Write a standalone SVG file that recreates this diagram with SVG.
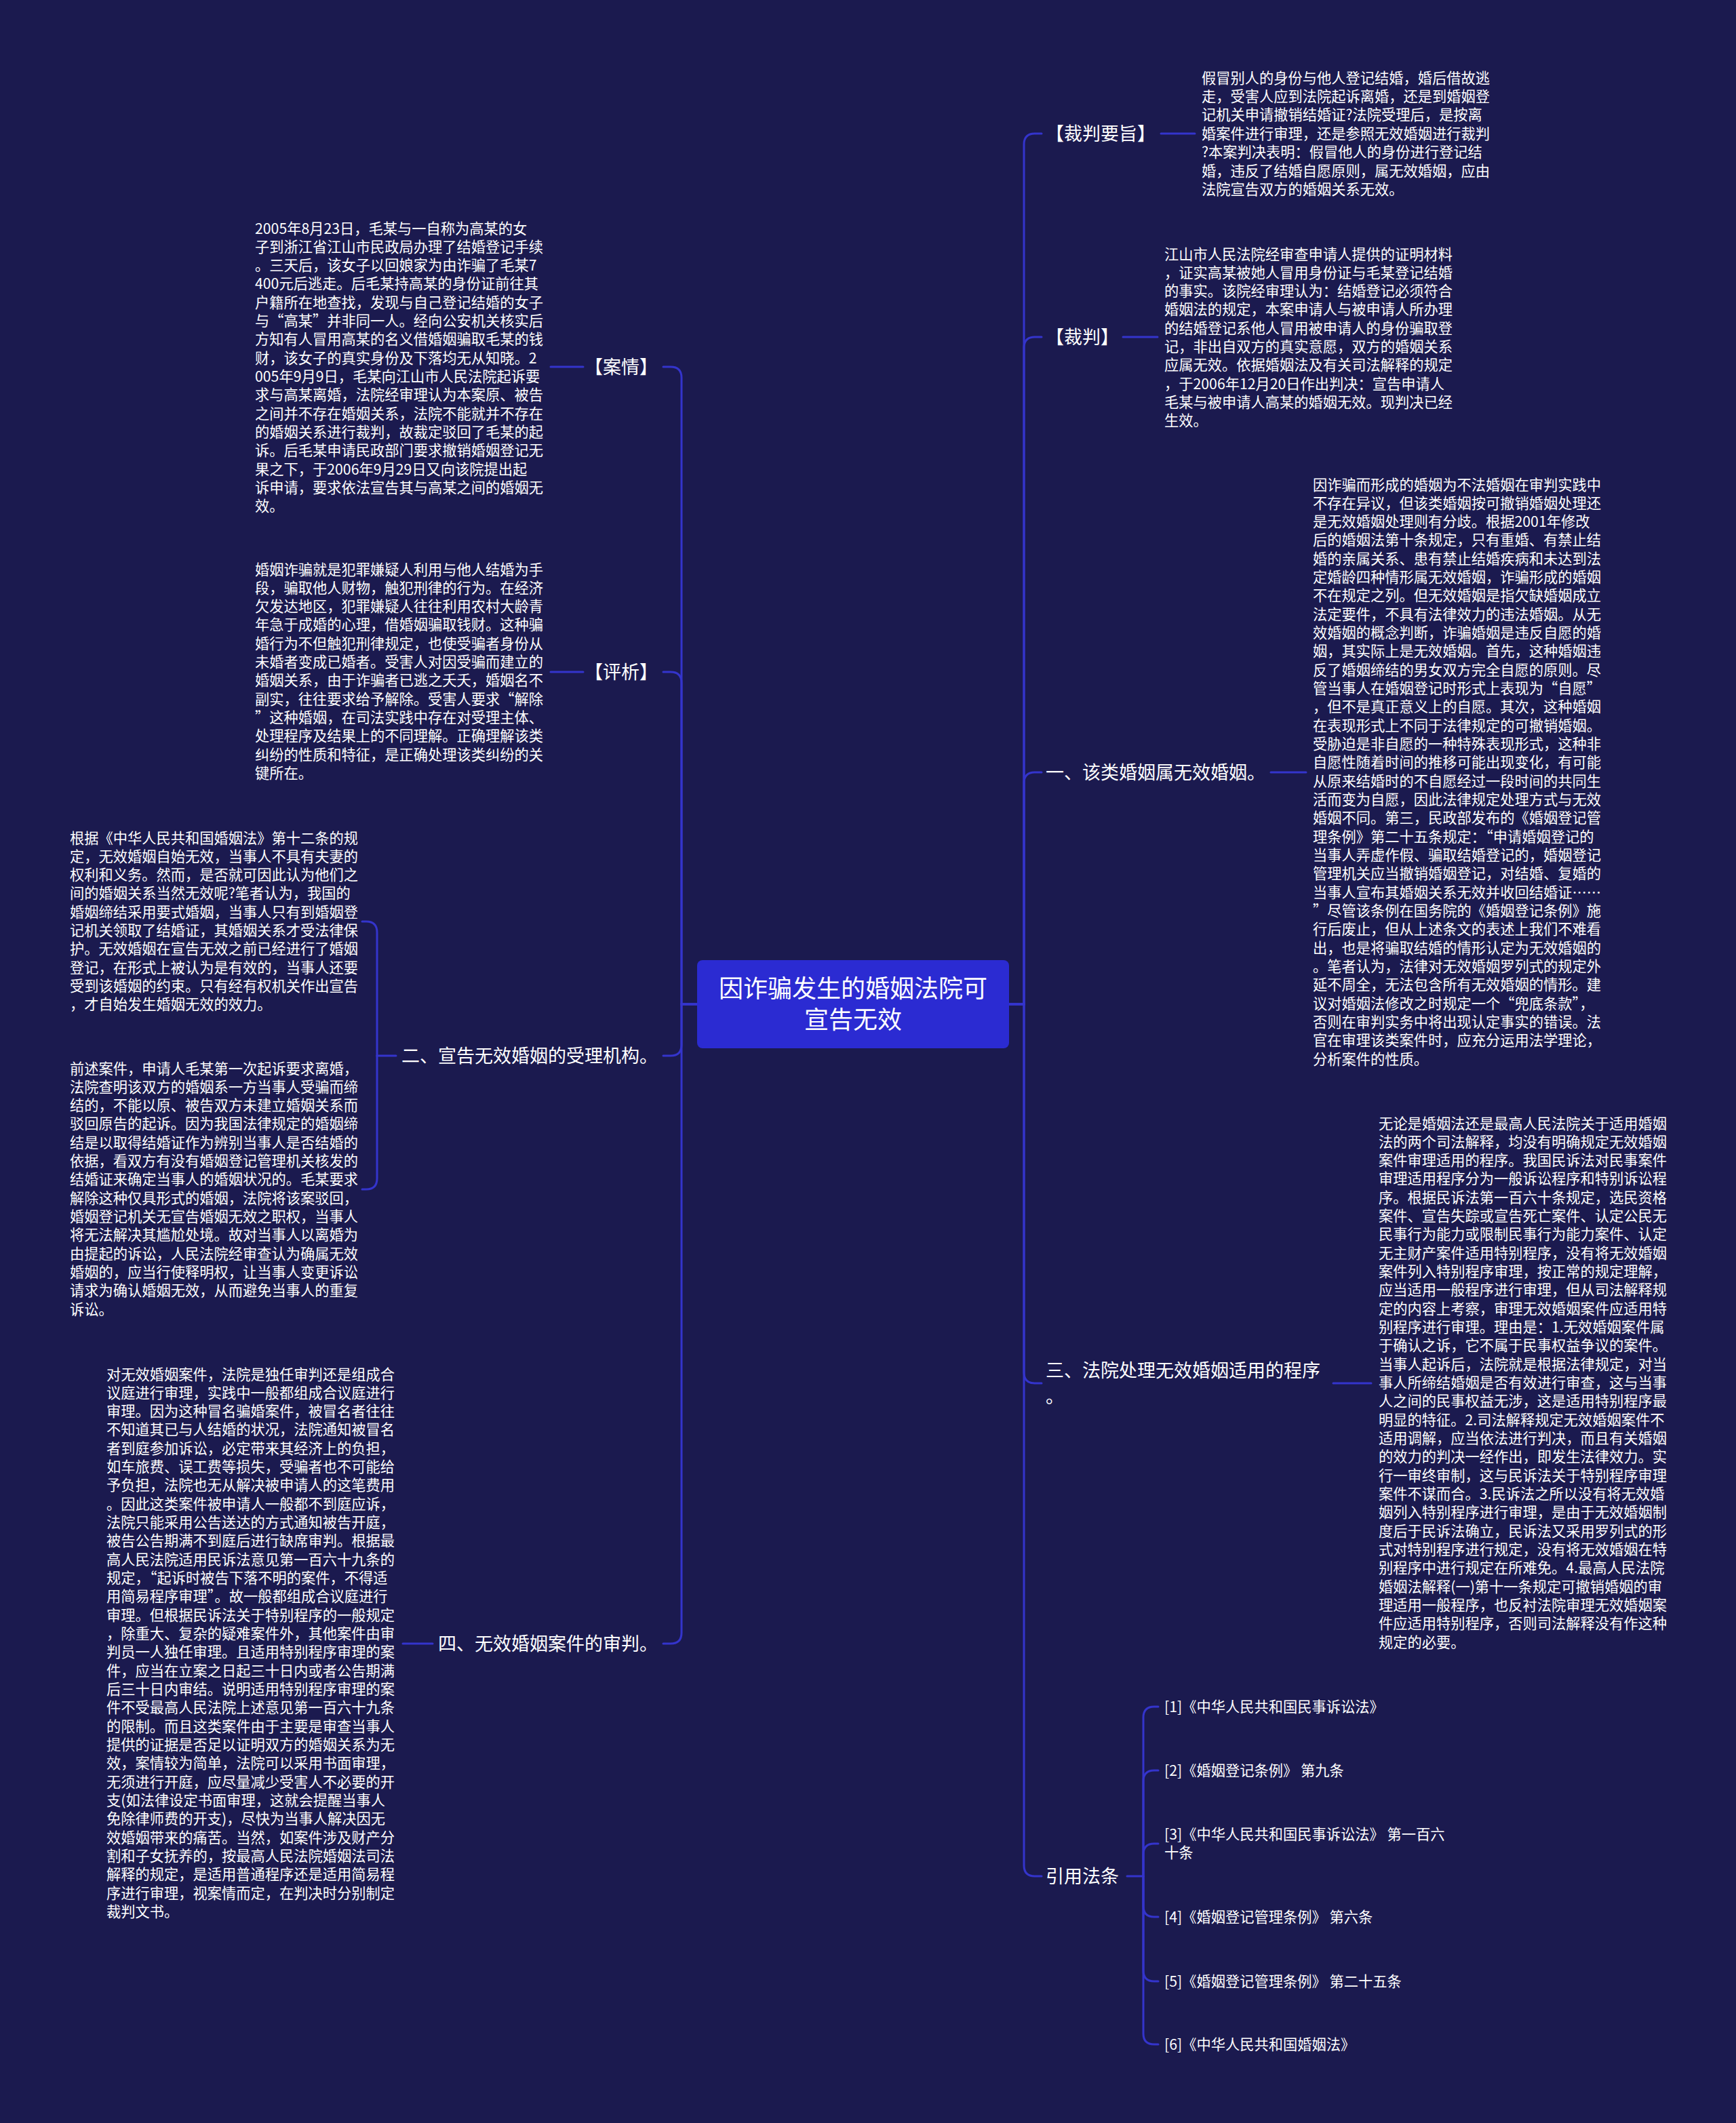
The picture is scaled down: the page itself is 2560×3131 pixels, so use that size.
<svg xmlns="http://www.w3.org/2000/svg" width="2560" height="3131" viewBox="0 0 2560 3131">
<style>
text{font-family:"Noto Sans CJK SC","Noto Sans",sans-serif;fill:#ffffff}
.leaf{font-size:21.25px}
.lbl{font-size:27px}
.root{font-size:36px}
.conn{stroke:#3434cc;stroke-width:3;fill:none;stroke-linecap:round}
</style>
<rect x="0" y="0" width="2560" height="3131" fill="#1b1a4f"/>
<g id="connectors">
<path class="conn" d="M1488 1481 H1510 V213 Q1510 197 1526 197 H1536"/>
<path class="conn" d="M1488 1481 H1510 V513 Q1510 497 1526 497 H1536"/>
<path class="conn" d="M1488 1481 H1510 V1155 Q1510 1139 1526 1139 H1536"/>
<path class="conn" d="M1488 1481 H1510 V2024 Q1510 2040 1526 2040 H1536"/>
<path class="conn" d="M1488 1481 H1510 V2751 Q1510 2767 1526 2767 H1536"/>
<path class="conn" d="M1028 1481 H1005 V557 Q1005 541 989 541 H978"/>
<path class="conn" d="M1028 1481 H1005 V1007 Q1005 991 989 991 H978"/>
<path class="conn" d="M1028 1481 H1005 V1541 Q1005 1557 989 1557 H978"/>
<path class="conn" d="M1028 1481 H1005 V2408 Q1005 2424 989 2424 H978"/>
<path class="conn" d="M1712 197 H1762"/>
<path class="conn" d="M1656 497 H1707"/>
<path class="conn" d="M1874 1139 H1926"/>
<path class="conn" d="M1966 2040 H2022"/>
<path class="conn" d="M1662 2767 H1686"/>
<path class="conn" d="M1686 2767 V2533 Q1686 2517 1702 2517 H1708"/>
<path class="conn" d="M1686 2767 V2627 Q1686 2611 1702 2611 H1708"/>
<path class="conn" d="M1686 2767 V2735 Q1686 2719 1702 2719 H1708"/>
<path class="conn" d="M1686 2767 V2811 Q1686 2827 1702 2827 H1708"/>
<path class="conn" d="M1686 2767 V2906 Q1686 2922 1702 2922 H1708"/>
<path class="conn" d="M1686 2767 V2999 Q1686 3015 1702 3015 H1708"/>
<path class="conn" d="M812 541 H860"/>
<path class="conn" d="M812 991 H860"/>
<path class="conn" d="M584 1557 H556"/>
<path class="conn" d="M556 1557 V1375 Q556 1359 540 1359 H534"/>
<path class="conn" d="M556 1557 V1738 Q556 1754 540 1754 H534"/>
<path class="conn" d="M594 2424 H638"/>
</g>
<g id="root">
<rect x="1028" y="1416" width="460" height="130" rx="8" fill="#2b2bd2"/>
<text class="root" x="1258" y="1470.5" text-anchor="middle">因诈骗发生的婚姻法院可</text>
<text class="root" x="1258" y="1516.5" text-anchor="middle">宣告无效</text>
</g>
<g id="n-caipanyaozhi">
<text class="lbl" x="1542" y="206.5">【裁判要旨】</text>
</g>
<g id="n-caipanyaozhi-leaf">
<text class="leaf" x="1772" y="122.5"><tspan x="1772">假冒别人的身份与他人登记结婚，婚后借故逃</tspan><tspan x="1772" dy="27.4">走，受害人应到法院起诉离婚，还是到婚姻登</tspan><tspan x="1772" dy="27.4">记机关申请撤销结婚证?法院受理后，是按离</tspan><tspan x="1772" dy="27.4">婚案件进行审理，还是参照无效婚姻进行裁判</tspan><tspan x="1772" dy="27.4">?本案判决表明：假冒他人的身份进行登记结</tspan><tspan x="1772" dy="27.4">婚，违反了结婚自愿原则，属无效婚姻，应由</tspan><tspan x="1772" dy="27.4">法院宣告双方的婚姻关系无效。</tspan></text>
</g>
<g id="n-caipan">
<text class="lbl" x="1542" y="506.5">【裁判】</text>
</g>
<g id="n-caipan-leaf">
<text class="leaf" x="1717" y="382.5"><tspan x="1717">江山市人民法院经审查申请人提供的证明材料</tspan><tspan x="1717" dy="27.33">，证实高某被她人冒用身份证与毛某登记结婚</tspan><tspan x="1717" dy="27.33">的事实。该院经审理认为：结婚登记必须符合</tspan><tspan x="1717" dy="27.33">婚姻法的规定，本案申请人与被申请人所办理</tspan><tspan x="1717" dy="27.33">的结婚登记系他人冒用被申请人的身份骗取登</tspan><tspan x="1717" dy="27.33">记，非出自双方的真实意愿，双方的婚姻关系</tspan><tspan x="1717" dy="27.33">应属无效。依据婚姻法及有关司法解释的规定</tspan><tspan x="1717" dy="27.33">，于2006年12月20日作出判决：宣告申请人</tspan><tspan x="1717" dy="27.33">毛某与被申请人高某的婚姻无效。现判决已经</tspan><tspan x="1717" dy="27.33">生效。</tspan></text>
</g>
<g id="n-yi">
<text class="lbl" x="1542" y="1148.5">一、该类婚姻属无效婚姻。</text>
</g>
<g id="n-yi-leaf">
<text class="leaf" x="1936" y="722.5"><tspan x="1936">因诈骗而形成的婚姻为不法婚姻在审判实践中</tspan><tspan x="1936" dy="27.33">不存在异议，但该类婚姻按可撤销婚姻处理还</tspan><tspan x="1936" dy="27.33">是无效婚姻处理则有分歧。根据2001年修改</tspan><tspan x="1936" dy="27.33">后的婚姻法第十条规定，只有重婚、有禁止结</tspan><tspan x="1936" dy="27.33">婚的亲属关系、患有禁止结婚疾病和未达到法</tspan><tspan x="1936" dy="27.33">定婚龄四种情形属无效婚姻，诈骗形成的婚姻</tspan><tspan x="1936" dy="27.33">不在规定之列。但无效婚姻是指欠缺婚姻成立</tspan><tspan x="1936" dy="27.33">法定要件，不具有法律效力的违法婚姻。从无</tspan><tspan x="1936" dy="27.33">效婚姻的概念判断，诈骗婚姻是违反自愿的婚</tspan><tspan x="1936" dy="27.33">姻，其实际上是无效婚姻。首先，这种婚姻违</tspan><tspan x="1936" dy="27.33">反了婚姻缔结的男女双方完全自愿的原则。尽</tspan><tspan x="1936" dy="27.33">管当事人在婚姻登记时形式上表现为“自愿”</tspan><tspan x="1936" dy="27.33">，但不是真正意义上的自愿。其次，这种婚姻</tspan><tspan x="1936" dy="27.33">在表现形式上不同于法律规定的可撤销婚姻。</tspan><tspan x="1936" dy="27.33">受胁迫是非自愿的一种特殊表现形式，这种非</tspan><tspan x="1936" dy="27.33">自愿性随着时间的推移可能出现变化，有可能</tspan><tspan x="1936" dy="27.33">从原来结婚时的不自愿经过一段时间的共同生</tspan><tspan x="1936" dy="27.33">活而变为自愿，因此法律规定处理方式与无效</tspan><tspan x="1936" dy="27.33">婚姻不同。第三，民政部发布的《婚姻登记管</tspan><tspan x="1936" dy="27.33">理条例》第二十五条规定：“申请婚姻登记的</tspan><tspan x="1936" dy="27.33">当事人弄虚作假、骗取结婚登记的，婚姻登记</tspan><tspan x="1936" dy="27.33">管理机关应当撤销婚姻登记，对结婚、复婚的</tspan><tspan x="1936" dy="27.33">当事人宣布其婚姻关系无效并收回结婚证……</tspan><tspan x="1936" dy="27.33">”尽管该条例在国务院的《婚姻登记条例》施</tspan><tspan x="1936" dy="27.33">行后废止，但从上述条文的表述上我们不难看</tspan><tspan x="1936" dy="27.33">出，也是将骗取结婚的情形认定为无效婚姻的</tspan><tspan x="1936" dy="27.33">。笔者认为，法律对无效婚姻罗列式的规定外</tspan><tspan x="1936" dy="27.33">延不周全，无法包含所有无效婚姻的情形。建</tspan><tspan x="1936" dy="27.33">议对婚姻法修改之时规定一个“兜底条款”，</tspan><tspan x="1936" dy="27.33">否则在审判实务中将出现认定事实的错误。法</tspan><tspan x="1936" dy="27.33">官在审理该类案件时，应充分运用法学理论，</tspan><tspan x="1936" dy="27.33">分析案件的性质。</tspan></text>
</g>
<g id="n-san">
<text class="lbl" x="1542" y="2030.5"><tspan x="1542">三、法院处理无效婚姻适用的程序</tspan><tspan x="1542" dy="38">。</tspan></text>
</g>
<g id="n-san-leaf">
<text class="leaf" x="2033" y="1664.5"><tspan x="2033">无论是婚姻法还是最高人民法院关于适用婚姻</tspan><tspan x="2033" dy="27.33">法的两个司法解释，均没有明确规定无效婚姻</tspan><tspan x="2033" dy="27.33">案件审理适用的程序。我国民诉法对民事案件</tspan><tspan x="2033" dy="27.33">审理适用程序分为一般诉讼程序和特别诉讼程</tspan><tspan x="2033" dy="27.33">序。根据民诉法第一百六十条规定，选民资格</tspan><tspan x="2033" dy="27.33">案件、宣告失踪或宣告死亡案件、认定公民无</tspan><tspan x="2033" dy="27.33">民事行为能力或限制民事行为能力案件、认定</tspan><tspan x="2033" dy="27.33">无主财产案件适用特别程序，没有将无效婚姻</tspan><tspan x="2033" dy="27.33">案件列入特别程序审理，按正常的规定理解，</tspan><tspan x="2033" dy="27.33">应当适用一般程序进行审理，但从司法解释规</tspan><tspan x="2033" dy="27.33">定的内容上考察，审理无效婚姻案件应适用特</tspan><tspan x="2033" dy="27.33">别程序进行审理。理由是：1.无效婚姻案件属</tspan><tspan x="2033" dy="27.33">于确认之诉，它不属于民事权益争议的案件。</tspan><tspan x="2033" dy="27.33">当事人起诉后，法院就是根据法律规定，对当</tspan><tspan x="2033" dy="27.33">事人所缔结婚姻是否有效进行审查，这与当事</tspan><tspan x="2033" dy="27.33">人之间的民事权益无涉，这是适用特别程序最</tspan><tspan x="2033" dy="27.33">明显的特征。2.司法解释规定无效婚姻案件不</tspan><tspan x="2033" dy="27.33">适用调解，应当依法进行判决，而且有关婚姻</tspan><tspan x="2033" dy="27.33">的效力的判决一经作出，即发生法律效力。实</tspan><tspan x="2033" dy="27.33">行一审终审制，这与民诉法关于特别程序审理</tspan><tspan x="2033" dy="27.33">案件不谋而合。3.民诉法之所以没有将无效婚</tspan><tspan x="2033" dy="27.33">姻列入特别程序进行审理，是由于无效婚姻制</tspan><tspan x="2033" dy="27.33">度后于民诉法确立，民诉法又采用罗列式的形</tspan><tspan x="2033" dy="27.33">式对特别程序进行规定，没有将无效婚姻在特</tspan><tspan x="2033" dy="27.33">别程序中进行规定在所难免。4.最高人民法院</tspan><tspan x="2033" dy="27.33">婚姻法解释(一)第十一条规定可撤销婚姻的审</tspan><tspan x="2033" dy="27.33">理适用一般程序，也反衬法院审理无效婚姻案</tspan><tspan x="2033" dy="27.33">件应适用特别程序，否则司法解释没有作这种</tspan><tspan x="2033" dy="27.33">规定的必要。</tspan></text>
</g>
<g id="n-yinyong">
<text class="lbl" x="1542" y="2776.5">引用法条</text>
</g>
<g id="n-ref1"><text class="leaf" x="1717" y="2524.5">[1]《中华人民共和国民事诉讼法》</text></g>
<g id="n-ref2"><text class="leaf" x="1717" y="2618.5">[2]《婚姻登记条例》 第九条</text></g>
<g id="n-ref3"><text class="leaf" x="1717" y="2713"><tspan x="1717">[3]《中华人民共和国民事诉讼法》 第一百六</tspan><tspan x="1717" dy="27.33">十条</tspan></text></g>
<g id="n-ref4"><text class="leaf" x="1717" y="2834.5">[4]《婚姻登记管理条例》 第六条</text></g>
<g id="n-ref5"><text class="leaf" x="1717" y="2929.5">[5]《婚姻登记管理条例》 第二十五条</text></g>
<g id="n-ref6"><text class="leaf" x="1717" y="3022.5">[6]《中华人民共和国婚姻法》</text></g>
<g id="n-anqing">
<text class="lbl" x="970" y="550.5" text-anchor="end">【案情】</text>
</g>
<g id="n-anqing-leaf">
<text class="leaf" x="376" y="344.5"><tspan x="376">2005年8月23日，毛某与一自称为高某的女</tspan><tspan x="376" dy="27.33">子到浙江省江山市民政局办理了结婚登记手续</tspan><tspan x="376" dy="27.33">。三天后，该女子以回娘家为由诈骗了毛某7</tspan><tspan x="376" dy="27.33">400元后逃走。后毛某持高某的身份证前往其</tspan><tspan x="376" dy="27.33">户籍所在地查找，发现与自己登记结婚的女子</tspan><tspan x="376" dy="27.33">与“高某”并非同一人。经向公安机关核实后</tspan><tspan x="376" dy="27.33">方知有人冒用高某的名义借婚姻骗取毛某的钱</tspan><tspan x="376" dy="27.33">财，该女子的真实身份及下落均无从知晓。2</tspan><tspan x="376" dy="27.33">005年9月9日，毛某向江山市人民法院起诉要</tspan><tspan x="376" dy="27.33">求与高某离婚，法院经审理认为本案原、被告</tspan><tspan x="376" dy="27.33">之间并不存在婚姻关系，法院不能就并不存在</tspan><tspan x="376" dy="27.33">的婚姻关系进行裁判，故裁定驳回了毛某的起</tspan><tspan x="376" dy="27.33">诉。后毛某申请民政部门要求撤销婚姻登记无</tspan><tspan x="376" dy="27.33">果之下，于2006年9月29日又向该院提出起</tspan><tspan x="376" dy="27.33">诉申请，要求依法宣告其与高某之间的婚姻无</tspan><tspan x="376" dy="27.33">效。</tspan></text>
</g>
<g id="n-pingxi">
<text class="lbl" x="970" y="1000.5" text-anchor="end">【评析】</text>
</g>
<g id="n-pingxi-leaf">
<text class="leaf" x="376" y="847.5"><tspan x="376">婚姻诈骗就是犯罪嫌疑人利用与他人结婚为手</tspan><tspan x="376" dy="27.33">段，骗取他人财物，触犯刑律的行为。在经济</tspan><tspan x="376" dy="27.33">欠发达地区，犯罪嫌疑人往往利用农村大龄青</tspan><tspan x="376" dy="27.33">年急于成婚的心理，借婚姻骗取钱财。这种骗</tspan><tspan x="376" dy="27.33">婚行为不但触犯刑律规定，也使受骗者身份从</tspan><tspan x="376" dy="27.33">未婚者变成已婚者。受害人对因受骗而建立的</tspan><tspan x="376" dy="27.33">婚姻关系，由于诈骗者已逃之夭夭，婚姻名不</tspan><tspan x="376" dy="27.33">副实，往往要求给予解除。受害人要求“解除</tspan><tspan x="376" dy="27.33">”这种婚姻，在司法实践中存在对受理主体、</tspan><tspan x="376" dy="27.33">处理程序及结果上的不同理解。正确理解该类</tspan><tspan x="376" dy="27.33">纠纷的性质和特征，是正确处理该类纠纷的关</tspan><tspan x="376" dy="27.33">键所在。</tspan></text>
</g>
<g id="n-er">
<text class="lbl" x="970" y="1566.5" text-anchor="end">二、宣告无效婚姻的受理机构。</text>
</g>
<g id="n-er-leaf1">
<text class="leaf" x="103" y="1243.5"><tspan x="103">根据《中华人民共和国婚姻法》第十二条的规</tspan><tspan x="103" dy="27.33">定，无效婚姻自始无效，当事人不具有夫妻的</tspan><tspan x="103" dy="27.33">权利和义务。然而，是否就可因此认为他们之</tspan><tspan x="103" dy="27.33">间的婚姻关系当然无效呢?笔者认为，我国的</tspan><tspan x="103" dy="27.33">婚姻缔结采用要式婚姻，当事人只有到婚姻登</tspan><tspan x="103" dy="27.33">记机关领取了结婚证，其婚姻关系才受法律保</tspan><tspan x="103" dy="27.33">护。无效婚姻在宣告无效之前已经进行了婚姻</tspan><tspan x="103" dy="27.33">登记，在形式上被认为是有效的，当事人还要</tspan><tspan x="103" dy="27.33">受到该婚姻的约束。只有经有权机关作出宣告</tspan><tspan x="103" dy="27.33">，才自始发生婚姻无效的效力。</tspan></text>
</g>
<g id="n-er-leaf2">
<text class="leaf" x="103" y="1583.5"><tspan x="103">前述案件，申请人毛某第一次起诉要求离婚，</tspan><tspan x="103" dy="27.33">法院查明该双方的婚姻系一方当事人受骗而缔</tspan><tspan x="103" dy="27.33">结的，不能以原、被告双方未建立婚姻关系而</tspan><tspan x="103" dy="27.33">驳回原告的起诉。因为我国法律规定的婚姻缔</tspan><tspan x="103" dy="27.33">结是以取得结婚证作为辨别当事人是否结婚的</tspan><tspan x="103" dy="27.33">依据，看双方有没有婚姻登记管理机关核发的</tspan><tspan x="103" dy="27.33">结婚证来确定当事人的婚姻状况的。毛某要求</tspan><tspan x="103" dy="27.33">解除这种仅具形式的婚姻，法院将该案驳回，</tspan><tspan x="103" dy="27.33">婚姻登记机关无宣告婚姻无效之职权，当事人</tspan><tspan x="103" dy="27.33">将无法解决其尴尬处境。故对当事人以离婚为</tspan><tspan x="103" dy="27.33">由提起的诉讼，人民法院经审查认为确属无效</tspan><tspan x="103" dy="27.33">婚姻的，应当行使释明权，让当事人变更诉讼</tspan><tspan x="103" dy="27.33">请求为确认婚姻无效，从而避免当事人的重复</tspan><tspan x="103" dy="27.33">诉讼。</tspan></text>
</g>
<g id="n-si">
<text class="lbl" x="970" y="2433.5" text-anchor="end">四、无效婚姻案件的审判。</text>
</g>
<g id="n-si-leaf">
<text class="leaf" x="157" y="2034.5"><tspan x="157">对无效婚姻案件，法院是独任审判还是组成合</tspan><tspan x="157" dy="27.33">议庭进行审理，实践中一般都组成合议庭进行</tspan><tspan x="157" dy="27.33">审理。因为这种冒名骗婚案件，被冒名者往往</tspan><tspan x="157" dy="27.33">不知道其已与人结婚的状况，法院通知被冒名</tspan><tspan x="157" dy="27.33">者到庭参加诉讼，必定带来其经济上的负担，</tspan><tspan x="157" dy="27.33">如车旅费、误工费等损失，受骗者也不可能给</tspan><tspan x="157" dy="27.33">予负担，法院也无从解决被申请人的这笔费用</tspan><tspan x="157" dy="27.33">。因此这类案件被申请人一般都不到庭应诉，</tspan><tspan x="157" dy="27.33">法院只能采用公告送达的方式通知被告开庭，</tspan><tspan x="157" dy="27.33">被告公告期满不到庭后进行缺席审判。根据最</tspan><tspan x="157" dy="27.33">高人民法院适用民诉法意见第一百六十九条的</tspan><tspan x="157" dy="27.33">规定，“起诉时被告下落不明的案件，不得适</tspan><tspan x="157" dy="27.33">用简易程序审理”。故一般都组成合议庭进行</tspan><tspan x="157" dy="27.33">审理。但根据民诉法关于特别程序的一般规定</tspan><tspan x="157" dy="27.33">，除重大、复杂的疑难案件外，其他案件由审</tspan><tspan x="157" dy="27.33">判员一人独任审理。且适用特别程序审理的案</tspan><tspan x="157" dy="27.33">件，应当在立案之日起三十日内或者公告期满</tspan><tspan x="157" dy="27.33">后三十日内审结。说明适用特别程序审理的案</tspan><tspan x="157" dy="27.33">件不受最高人民法院上述意见第一百六十九条</tspan><tspan x="157" dy="27.33">的限制。而且这类案件由于主要是审查当事人</tspan><tspan x="157" dy="27.33">提供的证据是否足以证明双方的婚姻关系为无</tspan><tspan x="157" dy="27.33">效，案情较为简单，法院可以采用书面审理，</tspan><tspan x="157" dy="27.33">无须进行开庭，应尽量减少受害人不必要的开</tspan><tspan x="157" dy="27.33">支(如法律设定书面审理，这就会提醒当事人</tspan><tspan x="157" dy="27.33">免除律师费的开支)，尽快为当事人解决因无</tspan><tspan x="157" dy="27.33">效婚姻带来的痛苦。当然，如案件涉及财产分</tspan><tspan x="157" dy="27.33">割和子女抚养的，按最高人民法院婚姻法司法</tspan><tspan x="157" dy="27.33">解释的规定，是适用普通程序还是适用简易程</tspan><tspan x="157" dy="27.33">序进行审理，视案情而定，在判决时分别制定</tspan><tspan x="157" dy="27.33">裁判文书。</tspan></text>
</g>
</svg>
